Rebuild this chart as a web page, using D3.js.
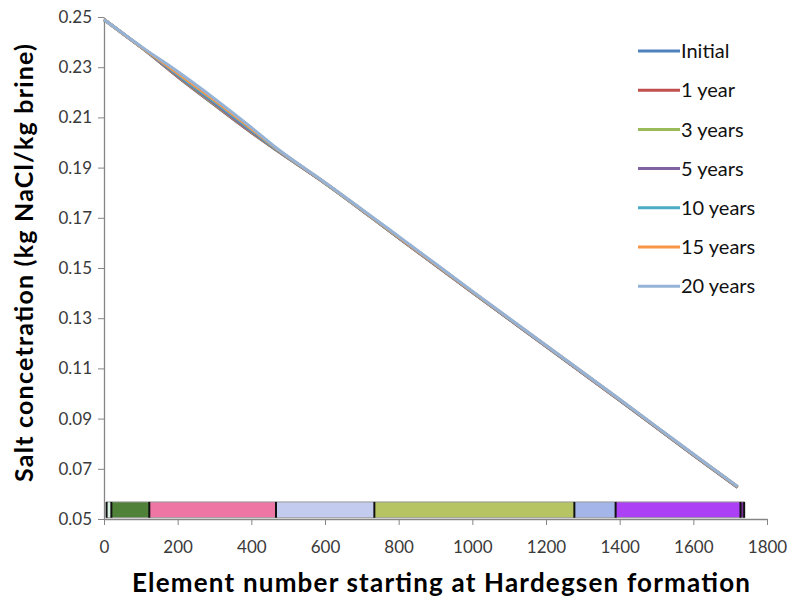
<!DOCTYPE html>
<html>
<head>
<meta charset="utf-8">
<script src="https://cdn.jsdelivr.net/npm/d3@7/dist/d3.min.js"></script>
<style>
  html, body { margin: 0; padding: 0; background: #fff; }
  svg { display: block; }
  text { font-family: Lato, "Open Sans", "Liberation Sans", sans-serif; }
</style>
</head>
<body>
<svg id="chart" width="796" height="599"></svg>
<script>
// Element numbers at which each concentration profile is sampled
const elements = [0, 50, 105, 200, 300, 400, 470, 600, 800, 1000, 1200, 1400, 1600, 1720];

// Salt concentration (kg NaCl / kg brine) for each simulated time
const initial  = [0.2490, 0.2435, 0.2375, 0.2262, 0.2150, 0.2040, 0.1968, 0.1838, 0.1620, 0.1403, 0.1188, 0.0973, 0.0755, 0.0626];
const year1    = [0.2490, 0.2435, 0.2375, 0.2263, 0.2151, 0.2041, 0.1968, 0.1838, 0.1620, 0.1403, 0.1188, 0.0973, 0.0755, 0.0626];
const years3   = [0.2490, 0.2435, 0.2375, 0.2265, 0.2153, 0.2043, 0.1969, 0.1838, 0.1621, 0.1404, 0.1189, 0.0974, 0.0756, 0.0627];
const years5   = [0.2490, 0.2435, 0.2375, 0.2267, 0.2156, 0.2045, 0.1970, 0.1839, 0.1621, 0.1404, 0.1189, 0.0974, 0.0756, 0.0627];
const years10  = [0.2490, 0.2435, 0.2376, 0.2271, 0.2162, 0.2050, 0.1972, 0.1839, 0.1622, 0.1405, 0.1190, 0.0975, 0.0757, 0.0628];
const years15  = [0.2490, 0.2435, 0.2376, 0.2276, 0.2168, 0.2055, 0.1974, 0.1840, 0.1623, 0.1406, 0.1191, 0.0976, 0.0758, 0.0629];
const years20  = [0.2490, 0.2436, 0.2378, 0.2283, 0.2175, 0.2060, 0.1976, 0.1841, 0.1626, 0.1408, 0.1192, 0.0977, 0.0759, 0.0630];

const seriesNames  = ["Initial", "1 year", "3 years", "5 years", "10 years", "15 years", "20 years"];
const seriesValues = [initial, year1, years3, years5, years10, years15, years20];
const seriesColors = ["#4F81BD", "#C0504D", "#9BBB59", "#8064A2", "#4BACC6", "#F79646", "#95B3D7"];

// Formation layers along the element axis
const layerStart  = [7, 20, 123, 467, 734, 1277, 1389, 1728];
const layerEnd    = [20, 123, 467, 734, 1277, 1389, 1728, 1738];
const layerColors = ["#d8f2e2", "#4f8138", "#ee76a4", "#c3cbef", "#b6c463", "#a3b5e9", "#ab40f4", "#7d2c9e"];

const xTicks = [0, 200, 400, 600, 800, 1000, 1200, 1400, 1600, 1800];
const yTicks = [0.05, 0.07, 0.09, 0.11, 0.13, 0.15, 0.17, 0.19, 0.21, 0.23, 0.25];

const svg = d3.select("#chart");
const plotLeft = 104, plotRight = 767, plotTop = 17, plotBottom = 519;

const x = d3.scaleLinear().domain([0, 1800]).range([plotLeft, plotRight]);
const y = d3.scaleLinear().domain([0.05, 0.25]).range([plotBottom, plotTop]);

const axisColor = "#868686";
const tickTextColor = "#3a3a3a";

// Y axis
const yAxis = svg.append("g")
  .attr("transform", `translate(${plotLeft},0)`)
  .call(d3.axisLeft(y).tickValues(yTicks).tickFormat(d3.format(".2f")).tickSize(6).tickSizeOuter(0));
yAxis.select(".domain").attr("stroke", axisColor).attr("stroke-width", 1.3);
yAxis.selectAll(".tick line").attr("stroke", axisColor);
yAxis.selectAll(".tick text").attr("x", -12).attr("fill", tickTextColor).attr("font-size", 17)
  .attr("font-family", "Lato, sans-serif");

// X axis
const xAxis = svg.append("g")
  .attr("transform", `translate(0,${plotBottom})`)
  .call(d3.axisBottom(x).tickValues(xTicks).tickFormat(d3.format("d")).tickSize(6).tickSizeOuter(0));
xAxis.select(".domain").attr("stroke", axisColor).attr("stroke-width", 1.3);
xAxis.selectAll(".tick line").attr("stroke", axisColor);
xAxis.selectAll(".tick text").attr("y", 22).attr("fill", tickTextColor).attr("font-size", 17)
  .attr("font-family", "Lato, sans-serif");

// Formation layer band along the bottom of the plot
const bandTop = 0.0568, bandBottom = 0.0505;
const band = svg.append("g");
band.selectAll("rect.layer")
  .data(layerStart.map((s, i) => ({ s, e: layerEnd[i], c: layerColors[i] })))
  .join("rect")
  .attr("class", "layer")
  .attr("x", d => x(d.s))
  .attr("width", d => x(d.e) - x(d.s))
  .attr("y", y(bandTop))
  .attr("height", y(bandBottom) - y(bandTop))
  .attr("fill", d => d.c);
band.append("rect")
  .attr("x", x(layerStart[0]))
  .attr("width", x(layerEnd[layerEnd.length - 1]) - x(layerStart[0]))
  .attr("y", y(bandTop))
  .attr("height", y(bandBottom) - y(bandTop))
  .attr("fill", "none")
  .attr("stroke", "#9a9a9a")
  .attr("stroke-width", 1);
band.selectAll("line.sep")
  .data(layerStart.concat([layerEnd[layerEnd.length - 1]]))
  .join("line")
  .attr("class", "sep")
  .attr("x1", d => x(d)).attr("x2", d => x(d))
  .attr("y1", y(bandTop)).attr("y2", y(bandBottom))
  .attr("stroke", "#111")
  .attr("stroke-width", 2);

// Concentration profiles
const line = d3.line()
  .x((d, i) => x(elements[i]))
  .y(d => y(d))
  .curve(d3.curveMonotoneX);

svg.append("g").selectAll("path")
  .data(seriesValues)
  .join("path")
  .attr("d", line)
  .attr("fill", "none")
  .attr("stroke", (d, i) => seriesColors[i])
  .attr("stroke-width", 3)
  .attr("stroke-linejoin", "round");

// Legend
const legend = svg.append("g");
const legendRows = legend.selectAll("g")
  .data(seriesNames)
  .join("g")
  .attr("transform", (d, i) => `translate(638,${51 + i * 39.2})`);
legendRows.append("line")
  .attr("x1", 0).attr("x2", 42)
  .attr("stroke", (d, i) => seriesColors[i])
  .attr("stroke-width", 3);
legendRows.append("text")
  .attr("x", 43).attr("dy", "0.36em")
  .attr("font-size", 20)
  .attr("fill", "#111")
  .text(d => d);

// Axis titles
svg.append("text")
  .attr("x", 441).attr("y", 592)
  .attr("text-anchor", "middle")
  .attr("font-size", 26).attr("font-weight", "bold")
  .attr("textLength", 618).attr("lengthAdjust", "spacing")
  .attr("fill", "#000")
  .text("Element number starting at Hardegsen formation");

svg.append("text")
  .attr("transform", "translate(33,263) rotate(-90)")
  .attr("text-anchor", "middle")
  .attr("font-size", 25).attr("font-weight", "bold")
  .attr("textLength", 438).attr("lengthAdjust", "spacing")
  .attr("fill", "#000")
  .text("Salt concetration (kg NaCl/kg brine)");
</script>
</body>
</html>
